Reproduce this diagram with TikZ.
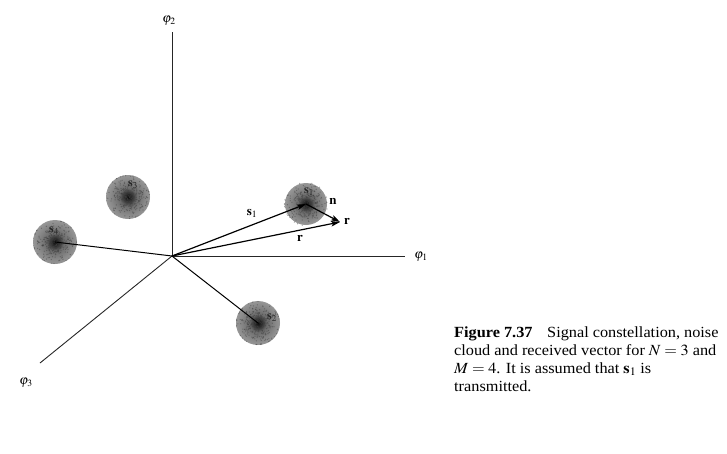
\documentclass[tikz,border=0pt]{standalone}
\usepackage{mathptmx}
\usepackage{fontspec}
\setmainfont{Liberation Serif}
\usetikzlibrary{arrows.meta,calc}
\pgfdeclareradialshading{noisecloud}{\pgfpoint{0bp}{0bp}}{color(0bp)=(black!95); color(5bp)=(black!80); color(10bp)=(black!58); color(20bp)=(black!46); color(32bp)=(black!34); color(41bp)=(black!18); color(47bp)=(black!5); color(50bp)=(white)}
\tikzset{
  axis/.style={line width=0.9pt, black!85},
  vec/.style={line width=1.2pt, -{Stealth[length=9pt,width=5.5pt,inset=2pt]}},
  plain/.style={line width=1pt},
  cloud/.style={shading=noisecloud},
  cloudlabel/.style={font=\fontsize{12}{12}\selectfont, text=black!85, inner sep=0pt},
  axlabel/.style={font=\fontsize{13}{13}\selectfont, inner sep=0pt},
  veclabel/.style={font=\fontsize{13}{13}\selectfont, inner sep=0pt},
}
\newcommand{\speckle}[1]{%
  \foreach \k in {1,...,320}{%
    \pgfmathsetmacro{\uu}{0.002+0.998*rnd}%
    \pgfmathsetmacro{\rr}{min(21.5,9*sqrt(-2*ln(\uu)))}%
    \pgfmathsetmacro{\aa}{360*rnd}%
    \fill[black!75, opacity=0.5] ($(#1)+(\aa:\rr)$) circle (0.65);
  }}
\begin{document}
\begin{tikzpicture}[x=1pt,y=-1pt]
\useasboundingbox (0,0) rectangle (727,453);
\pgfmathsetseed{4217}
% coordinates
\coordinate (O) at (172,256);
\coordinate (e1) at (405,256);
\coordinate (e2) at (172,32);
\coordinate (e3) at (40,363);
\coordinate (s1) at (306,204);
\coordinate (s2) at (258,323);
\coordinate (s3) at (128,197);
\coordinate (s4) at (55,242);
\coordinate (r) at (340,222);
% noise clouds
\path[cloud] (s1) circle (21);
\path[cloud] (s2) circle (22);
\path[cloud] (s3) circle (22);
\path[cloud] (s4) circle (22);
\speckle{s1}
\speckle{s2}
\speckle{s3}
\speckle{s4}
% axes
\draw[axis] (O) -- (e1);
\draw[axis] (O) -- (e2);
\draw[axis] (O) -- (e3);
\node[axlabel] (l1) at (421,257) {$\varphi_1$};
\node[axlabel] (l2) at (169,21) {$\varphi_2$};
\node[axlabel] (l3) at (26,383) {$\varphi_3$};
% signal lines
\draw[plain] (O) -- (s4);
\draw[plain] (O) -- (s2);
\draw[vec] (O) -- (s1);
\draw[vec] (O) -- (r);
\draw[vec] (s1) -- (r);
% labels
\node[veclabel] (ls1) at (252,213) {$\mathbf{s}_1$};
\node[veclabel] (ln) at (333,201) {$\mathbf{n}$};
\node[veclabel] (lr1) at (347,221) {$\mathbf{r}$};
\node[veclabel] (lr2) at (300,238) {$\mathbf{r}$};
\node[cloudlabel] (c1) at (309,192) {$\mathbf{s}_1$};
\node[cloudlabel] (c2) at (272,318) {$\mathbf{s}_2$};
\node[cloudlabel] (c3) at (133,185) {$\mathbf{s}_3$};
\node[cloudlabel] (c4) at (54,231) {$\mathbf{s}_4$};
% caption
\node[anchor=base west, inner sep=0pt] (cap) at (454,337)
{\scalebox{1.05}[1]{\fontsize{15.5}{18}\selectfont\begin{tabular}[t]{@{}l@{}}
\textbf{Figure 7.37}\hspace{0.9em}Signal constellation, noise\\
cloud and received vector for $N=3$ and\\
$M=4$. It is assumed that $\mathbf{s}_1$ is\\
transmitted.\end{tabular}}};
\end{tikzpicture}
\end{document}
